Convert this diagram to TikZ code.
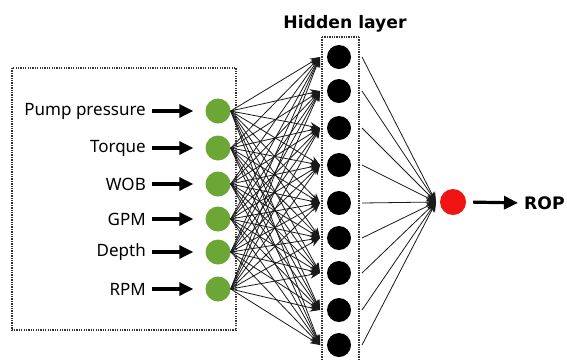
\documentclass[tikz,border=0pt]{standalone}
\usepackage{fontspec}
\setmainfont{Noto Sans}
\newfontfamily\boldfont{DejaVu Sans}
\usetikzlibrary{arrows.meta}
\definecolor{ingreen}{RGB}{108,166,52}
\definecolor{outred}{RGB}{240,20,20}
\begin{document}
\begin{tikzpicture}[x=1pt,y=-1pt,
  dotbox/.style={draw=black!80,line width=2pt,dash pattern=on 1.3pt off 1.1pt},
  innode/.style={circle,fill=ingreen,minimum size=25pt,inner sep=0pt},
  hidnode/.style={circle,fill=black,minimum size=24pt,inner sep=0pt},
  outnode/.style={circle,fill=outred,minimum size=26pt,inner sep=0pt},
  lab/.style={anchor=east,inner sep=0pt,font=\fontsize{17}{20}\selectfont},
  boldlab/.style={inner sep=0pt,font=\boldfont\bfseries\fontsize{17.2}{21}\selectfont},
  bigarrow/.style={line width=3.2pt,-{Triangle[length=14pt,width=13pt]}},
  conn/.style={black!90,line width=0.8pt,-{Stealth[length=10pt,width=8pt]}}
]
\useasboundingbox (0,0) rectangle (567,360);
% input box
\draw[dotbox] (12,68) rectangle (236,330);
% hidden box
\draw[dotbox] (322,37) -- (322,362) (359,37) -- (359,362) (322,37) -- (359,37);
\node[boldlab] (ht) at (345,24) {Hidden layer};
% input nodes and labels
\foreach \n/\y/\t in {1/111/Pump pressure,2/148/Torque,3/184/WOB,4/219/GPM,5/252/Depth,6/289/RPM}{
  \node[innode] (i\n) at (218,\y) {};
  \node[lab] (l\n) at (146,\y) {\t};
  \draw[bigarrow,shorten <=6pt,shorten >=12pt] (l\n.east) -- (i\n.west);
}
% hidden nodes
\foreach \n/\y in {1/57,2/91,3/128,4/165,5/203,6/238,7/273,8/310,9/345}{
  \node[hidnode] (h\n) at (339,\y) {};
  \coordinate (hx\n) at (320,\y);
  \coordinate (hr\n) at (362,\y);
}
% output
\node[outnode] (o) at (453,202) {};
\coordinate (ox) at (436,202);
\node[boldlab,anchor=west] (rop) at (524,203) {ROP};
\draw[bigarrow,shorten <=7pt,shorten >=6pt] (o.east) -- (rop.west);
% input -> hidden connections
\foreach \a in {1,...,6}{
  \foreach \b in {1,...,9}{
    \draw[conn] (i\a.east) -- (hx\b);
  }
}
% hidden -> output
\foreach \b in {1,...,9}{
  \draw[conn] (hr\b) -- (ox);
}
\end{tikzpicture}
\end{document}
